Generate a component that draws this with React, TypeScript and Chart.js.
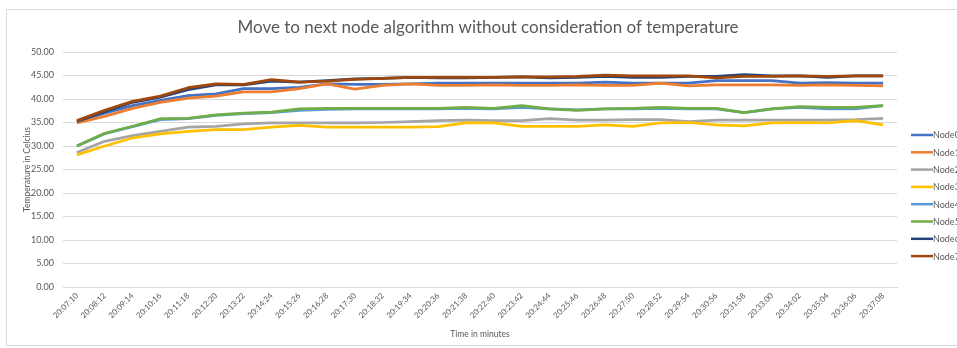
import React, { useEffect, useRef } from "react";
import { Chart, registerables } from "chart.js";

Chart.register(...registerables);

const chartTitle = "Move to next node algorithm without consideration of temperature";
const xAxisTitle = "Time in minutes";
const yAxisTitle = "Temperature in Celcius";

const timeLabels = [
  "20:07:10", "20:08:12", "20:09:14", "20:10:16", "20:11:18", "20:12:20",
  "20:13:22", "20:14:24", "20:15:26", "20:16:28", "20:17:30", "20:18:32",
  "20:19:34", "20:20:36", "20:21:38", "20:22:40", "20:23:42", "20:24:44",
  "20:25:46", "20:26:48", "20:27:50", "20:28:52", "20:29:54", "20:30:56",
  "20:31:58", "20:33:00", "20:34:02", "20:35:04", "20:36:06", "20:37:08",
];

const node0 = [35.2, 37.0, 38.6, 39.7, 40.7, 41.1, 42.2, 42.2, 42.5, 43.2, 43.1, 43.1, 43.2, 43.4, 43.4, 43.4, 43.4, 43.4, 43.4, 43.6, 43.4, 43.4, 43.4, 43.9, 43.9, 43.9, 43.4, 43.5, 43.4, 43.4];
const node1 = [34.9, 36.3, 38.0, 39.3, 40.2, 40.6, 41.5, 41.5, 42.2, 43.2, 42.1, 42.9, 43.2, 42.9, 42.9, 43.0, 42.9, 42.9, 43.0, 42.9, 42.9, 43.4, 42.8, 43.0, 43.0, 43.0, 42.9, 43.0, 42.9, 42.8];
const node2 = [28.6, 31.0, 32.2, 33.1, 34.0, 34.2, 34.7, 34.9, 34.9, 34.9, 34.9, 35.0, 35.2, 35.4, 35.5, 35.4, 35.4, 35.8, 35.5, 35.5, 35.6, 35.6, 35.2, 35.5, 35.5, 35.5, 35.5, 35.5, 35.6, 35.9];
const node3 = [28.1, 30.0, 31.7, 32.6, 33.1, 33.5, 33.5, 34.0, 34.4, 34.0, 34.0, 34.0, 34.0, 34.1, 34.9, 34.9, 34.2, 34.2, 34.2, 34.5, 34.2, 34.9, 35.0, 34.5, 34.3, 34.9, 35.0, 34.9, 35.4, 34.5];
const node4 = [30.0, 32.6, 34.1, 35.6, 35.8, 36.5, 36.9, 37.1, 37.6, 37.8, 37.9, 37.9, 37.9, 37.9, 38.0, 37.9, 38.2, 37.9, 37.7, 37.9, 37.9, 38.0, 37.9, 37.9, 37.1, 37.9, 38.2, 37.9, 37.9, 38.6];
const node5 = [30.0, 32.7, 34.2, 35.8, 35.9, 36.6, 37.0, 37.2, 37.9, 38.0, 38.0, 38.0, 38.0, 38.0, 38.2, 38.0, 38.6, 37.9, 37.6, 37.9, 38.0, 38.2, 38.0, 38.0, 37.1, 37.9, 38.4, 38.2, 38.2, 38.6];
const node6 = [35.2, 37.3, 39.3, 40.4, 42.0, 43.0, 43.0, 43.8, 43.6, 43.9, 44.3, 44.4, 44.6, 44.5, 44.5, 44.6, 44.7, 44.5, 44.6, 44.8, 44.6, 44.6, 44.8, 44.8, 45.2, 44.9, 44.9, 44.6, 44.9, 44.9];
const node7 = [35.4, 37.6, 39.5, 40.6, 42.4, 43.2, 43.1, 44.1, 43.6, 43.8, 44.2, 44.4, 44.6, 44.6, 44.6, 44.6, 44.7, 44.7, 44.8, 45.1, 44.9, 44.9, 44.9, 44.5, 44.8, 44.8, 44.9, 44.8, 44.9, 44.9];

const seriesNames = ["Node0", "Node1", "Node2", "Node3", "Node4", "Node5", "Node6", "Node7"];
const seriesValues = [node0, node1, node2, node3, node4, node5, node6, node7];
const seriesColors = ["#4472C4", "#ED7D31", "#A5A5A5", "#FFC000", "#5B9BD5", "#70AD47", "#264478", "#9E480E"];

const FONT = "Lato, 'Open Sans', sans-serif";
const TEXT = "#595959";
const GRID = "#d9d9d9";
const W = 957;
const H = 348;

// Frame, title and the right-hand legend are painted directly on the canvas.
const decorations = {
  id: "decorations",
  afterDraw(chart: any) {
    const ctx = chart.ctx;
    ctx.save();
    ctx.strokeStyle = GRID;
    ctx.lineWidth = 1;
    ctx.strokeRect(6.5, 9.5, W, 336);

    ctx.fillStyle = TEXT;
    ctx.font = `17px ${FONT}`;
    ctx.textAlign = "center";
    ctx.textBaseline = "middle";
    ctx.fillText(chartTitle, 488, 28);

    ctx.font = `9px ${FONT}`;
    ctx.textAlign = "left";
    chart.data.datasets.forEach((ds: any, i: number) => {
      const y = 135 + i * 17.3;
      ctx.strokeStyle = ds.borderColor;
      ctx.lineWidth = 2.5;
      ctx.beginPath();
      ctx.moveTo(911, y);
      ctx.lineTo(933, y);
      ctx.stroke();
      ctx.fillStyle = TEXT;
      ctx.fillText(ds.label, 933, y + 0.5);
    });
    ctx.restore();
  },
};

export default function App() {
  const canvasRef = useRef<HTMLCanvasElement | null>(null);

  useEffect(() => {
    if (!canvasRef.current) return;
    const chart = new Chart(canvasRef.current, {
      type: "line",
      data: {
        labels: timeLabels,
        datasets: seriesNames.map((name, i) => ({
          label: name,
          data: seriesValues[i],
          borderColor: seriesColors[i],
          backgroundColor: seriesColors[i],
          borderWidth: 2.75,
          pointRadius: 0,
          tension: 0,
          borderJoinStyle: "round" as const,
          order: seriesNames.length - 1 - i,
        })),
      },
      options: {
        animation: false,
        responsive: false,
        layout: { padding: { top: 52, right: 60, left: 0, bottom: 0 } },
        plugins: {
          legend: { display: false },
          title: { display: false },
          tooltip: { enabled: false },
        },
        scales: {
          x: {
            offset: true,
            grid: { display: false, drawTicks: false },
            border: { display: true, color: GRID, width: 1 },
            ticks: {
              color: TEXT,
              font: { family: FONT, size: 8 },
              minRotation: 45,
              maxRotation: 45,
              autoSkip: false,
              padding: 4,
            },
            title: {
              display: true,
              text: xAxisTitle,
              color: TEXT,
              font: { family: FONT, size: 8.5 },
              padding: { top: 0, bottom: 9 },
            },
            afterFit: (scale: any) => {
              scale.height = 61;
            },
          },
          y: {
            min: 0,
            max: 50,
            grid: { color: GRID, lineWidth: 1, drawTicks: false },
            border: { display: false },
            ticks: {
              stepSize: 5,
              color: TEXT,
              font: { family: FONT, size: 9 },
              padding: 9,
              callback: (v: any) => Number(v).toFixed(2),
            },
            title: {
              display: true,
              text: yAxisTitle,
              color: TEXT,
              font: { family: FONT, size: 8.5 },
              padding: { top: 22, bottom: 0 },
            },
            afterFit: (scale: any) => {
              scale.width = 63;
            },
          },
        },
      },
      plugins: [decorations],
    });
    return () => chart.destroy();
  }, []);

  return (
    <div style={{ position: "fixed", left: 0, top: 0, width: W, height: H, background: "#fff" }}>
      <canvas ref={canvasRef} width={W} height={H} style={{ display: "block" }} />
    </div>
  );
}
